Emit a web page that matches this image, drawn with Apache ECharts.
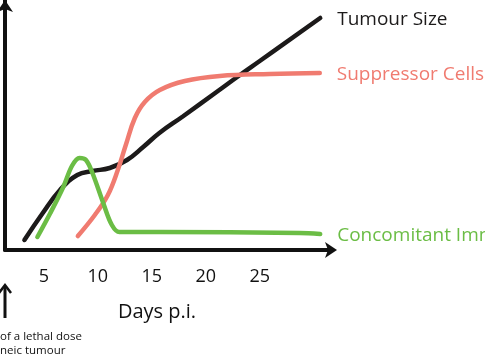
<!DOCTYPE html>
<html><head><meta charset="utf-8">
<script src="https://cdn.jsdelivr.net/npm/echarts@6/dist/echarts.min.js"></script>
<style>html,body{margin:0;padding:0;background:#fff}#c{width:485px;height:360px}</style>
</head><body><div id="c"></div>
<script>
// Data (days p.i., relative level 0-100)
const tickLabels = [5, 10, 15, 20, 25];
const tumourSize = [[3.2,4],[4.9,14.8],[6.5,24],[8.1,30],[9.5,31.6],[11.1,32.8],[12.7,36],[14.2,41.2],[15.7,46.8],[17.9,53.5],[21.0,63.2],[23.1,69.8],[25.0,75.6],[30.6,92.8]];
const suppressorCells = [[8.15,5.6],[9.72,14],[10.93,22],[11.85,32],[12.59,42],[13.43,52.8],[14.35,59.2],[15.74,64],[18.06,67.6],[21.3,69.6],[25.93,70.4],[30.56,70.8]];
const concomitantImmunity = [[4.4,5.2],[5.6,14.8],[6.8,25.2],[7.6,33.6],[8.3,36.8],[8.9,36],[9.5,30.8],[10.5,18.8],[11.3,10],[12.0,7.2],[15.7,7.2],[28.7,6.8],[30.6,6.4]];
const seriesNames = ['Tumour Size', 'Suppressor Cells', 'Concomitant Immunity'];
const colors = ['#1c1a1a', '#f07b70', '#6bbd45'];

const font = 'Open Sans';
const chart = echarts.init(document.getElementById('c'), null, {renderer: 'canvas'});
function mk(name, data, color, smooth) {
  return {
    name, type: 'line', data, smooth, symbol: 'none',
    lineStyle: {color, width: 4.5, cap: 'round'},
    endLabel: {show: true, formatter: name, color, fontFamily: font, fontSize: 19, distance: 17, offset: [0, 2], align: 'left', verticalAlign: 'middle'}
  };
}
chart.setOption({
  animation: false,
  grid: {left: 5, right: 154, top: 0, bottom: 110, containLabel: false},
  xAxis: {
    type: 'value', min: 1.4, max: 31.6,
    axisLine: {show: true, lineStyle: {color: '#111', width: 4}, symbol: ['none', 'arrow'], symbolSize: [12, 12], symbolOffset: [0, 6]},
    axisTick: {show: false},
    splitLine: {show: false},
    axisLabel: {customValues: tickLabels, color: '#111', fontFamily: font, fontSize: 18, margin: 18},
    name: 'Days p.i.', nameLocation: 'middle', nameGap: 52,
    nameTextStyle: {color: '#111', fontFamily: font, fontSize: 20, padding: [0, 22, 0, 0]}
  },
  yAxis: {
    type: 'value', min: 0, max: 100,
    axisLine: {show: true, lineStyle: {color: '#111', width: 4}, symbol: ['none', 'arrow'], symbolSize: [12, 12]},
    axisTick: {show: false}, axisLabel: {show: false}, splitLine: {show: false}
  },
  series: [
    mk(seriesNames[0], tumourSize, colors[0], 0.45),
    mk(seriesNames[1], suppressorCells, colors[1], 0.4),
    mk(seriesNames[2], concomitantImmunity, colors[2], 0.35)
  ],
  graphic: [
    {type: 'line', shape: {x1: 5, y1: 318, x2: 5, y2: 287}, style: {stroke: '#111', lineWidth: 3}},
    {type: 'polyline', shape: {points: [[-1, 293], [5, 285], [11, 293]]}, style: {stroke: '#111', lineWidth: 2.5, fill: null}},
    {type: 'text', left: 0, top: 331, style: {text: 'of a lethal dose', fill: '#111', font: '11.5px "Open Sans"'}},
    {type: 'text', left: 0, top: 345, style: {text: 'neic tumour', fill: '#111', font: '11.5px "Open Sans"'}}
  ]
});
</script></body></html>
